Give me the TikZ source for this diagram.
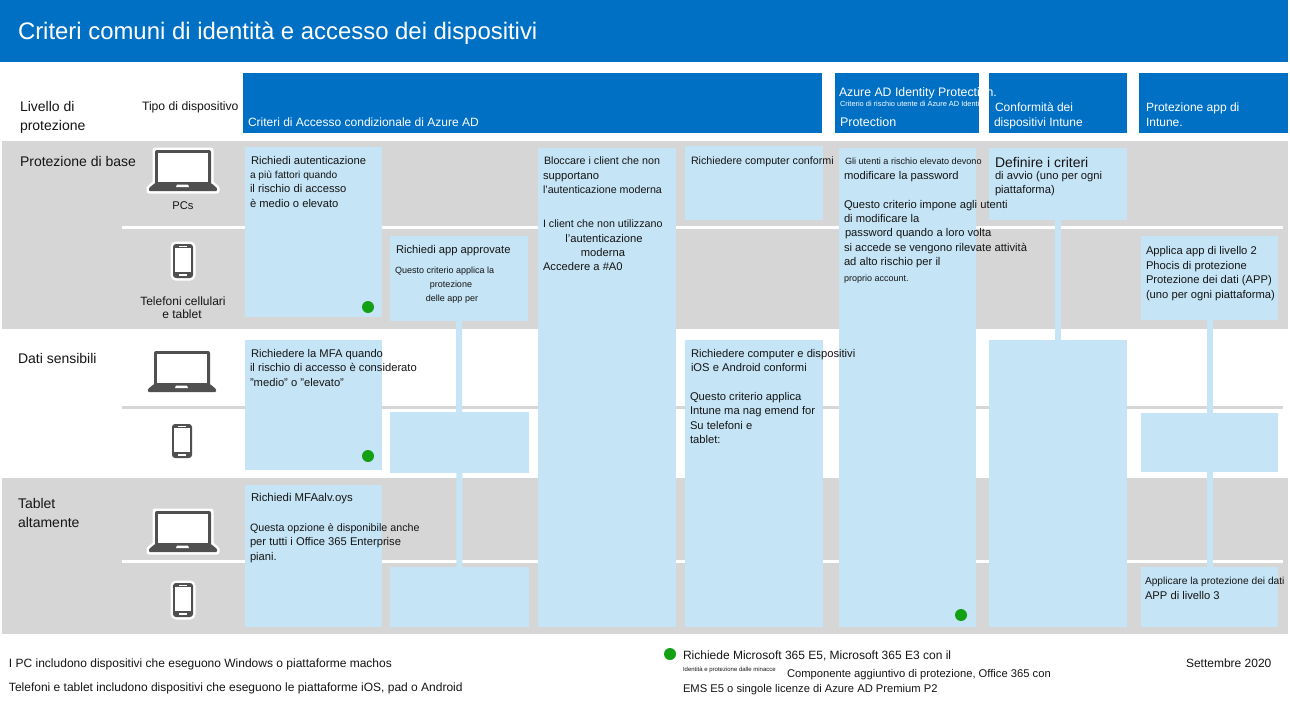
\documentclass[tikz,border=0pt]{standalone}
\usepackage{fontspec}
\setmainfont{Liberation Sans}
\definecolor{hdr}{HTML}{0070C5}
\definecolor{pale}{HTML}{C5E4F5}
\definecolor{band}{HTML}{D6D6D6}
\definecolor{icon}{HTML}{505050}
\definecolor{dot}{HTML}{14A014}
\definecolor{ink}{HTML}{151515}
\newcommand{\fs}[1]{\fontsize{#1}{#1}\selectfont}
\newcommand{\boxat}[6]{% style,name,x1,y1,x2,y2
  \pgfmathsetmacro{\bw}{#5-#3}\pgfmathsetmacro{\bh}{#6-#4}
  \pgfmathsetmacro{\bx}{(#3+#5)/2}\pgfmathsetmacro{\by}{(#4+#6)/2}
  \node[#1,minimum width=\bw pt,minimum height=\bh pt] (#2) at (\bx,\by) {};}
\tikzset{
  x=1pt,y=-1pt,
  hdrbox/.style={fill=hdr,draw=none,inner sep=0,outer sep=0},
  palebox/.style={fill=pale,draw=none,inner sep=0,outer sep=0},
  bandbox/.style={fill=band,draw=none,inner sep=0,outer sep=0},
  stem/.style={draw=pale,line width=6pt},
  wsep/.style={draw=white,line width=3pt},
  gsep/.style={draw=band,line width=3pt},
  tx/.style={anchor=base west,inner sep=0,outer sep=0,yshift=-4pt,text=ink,font=\fs{11.2}},
  txn/.style={tx,font=\fs{10.7}},
  txb/.style={tx,font=\fs{12}},
  txs/.style={tx,font=\fs{9}},
  txl/.style={tx,font=\fs{14}},
  txc/.style={tx,anchor=base},
  txcb/.style={txb,anchor=base},
  txcs/.style={txs,anchor=base},
  wt/.style={tx,text=white,font=\fs{12}},
  gdot/.style={circle,fill=dot,draw=none,minimum size=12pt,inner sep=0},
  laptop/.pic={
    \fill[icon,rounded corners=2pt] (-28,-20) rectangle (28,15);
    \fill[white] (-25,-17) rectangle (25,12);
    \fill[icon,rounded corners=1pt] (-28,13) -- (28,13) -- (34,18) -- (34,21) -- (-34,21) -- (-34,18) -- cycle;
    \fill[white] (-6,14.5) -- (5,14.5) -- (6,17) -- (-7,17) -- cycle;
  },
  laptophalo/.pic={
    \draw[white,line width=5pt,line join=round] (-28,-20) -- (28,-20) -- (28,13) -- (34,18) -- (34,21) -- (-34,21) -- (-34,18) -- (-28,13) -- cycle;
    \pic {laptop};
  },
  phone/.pic={
    \fill[icon,rounded corners=3pt] (-10,-17) rectangle (10,17);
    \fill[white] (-8,-13) rectangle (8,11);
    \fill[white] (-4,-15.5) rectangle (4,-14.2);
    \fill[white] (-4,13.2) rectangle (4,14.8);
  },
  phonehalo/.pic={
    \draw[white,line width=5pt,rounded corners=3pt] (-10,-17) rectangle (10,17);
    \pic {phone};
  },
}
\begin{document}
\begin{tikzpicture}
\useasboundingbox (0,0) rectangle (1290,702);
\fill[white] (0,0) rectangle (1290,702);
% title and header
\boxat{hdrbox}{title}{0}{0}{1288}{62}
\node[tx,text=white,font=\fs{23.9}] (ttl) at (18,35) {Criteri comuni di identità e accesso dei dispositivi};
\boxat{hdrbox}{h1}{243}{73}{822}{133}
\boxat{hdrbox}{h2}{835}{73}{979}{133}
\boxat{hdrbox}{h3}{989}{73}{1127}{133}
\boxat{hdrbox}{h4}{1139}{73}{1288}{133}
% bands
\boxat{bandbox}{b1}{2}{141}{1288}{329}
\boxat{bandbox}{b3}{2}{478}{1288}{634}
\coordinate (s1a) at (122,227); \coordinate (s1b) at (1283,227);
\coordinate (s2a) at (122,407); \coordinate (s2b) at (1283,407);
\coordinate (s3a) at (122,561); \coordinate (s3b) at (1283,561);
\draw[wsep] (s1a) -- (s1b);
\draw[gsep] (s2a) -- (s2b);
\draw[wsep] (s3a) -- (s3b);
% pale boxes
\boxat{palebox}{a1}{245}{147}{382}{317}
\boxat{palebox}{a2}{245}{340}{382}{470}
\boxat{palebox}{a3}{245}{485}{382}{627}
\boxat{palebox}{bb1}{390}{236}{528}{321}
\boxat{palebox}{bb2}{390}{412}{529}{473}
\boxat{palebox}{bb3}{390}{567}{529}{627}
\boxat{palebox}{c1}{538}{148}{676}{627}
\boxat{palebox}{d1}{685}{146}{823}{220}
\boxat{palebox}{d2}{685}{340}{823}{627}
\boxat{palebox}{e1}{839}{148}{976}{627}
\boxat{palebox}{f1}{989}{148}{1127}{220}
\boxat{palebox}{f2}{989}{340}{1127}{627}
\boxat{palebox}{g1}{1141}{236}{1278}{320}
\boxat{palebox}{g2}{1141}{413}{1278}{472}
\boxat{palebox}{g3}{1141}{567}{1278}{627}
\draw[stem] (bb1.south) -- (bb3.north);
\draw[stem] (f1.south) -- (f2.north);
\draw[stem] (g1.south) -- (g3.north);
% icons
\pic at (183,170) {laptophalo};
\pic at (183,261) {phonehalo};
\pic at (182,371) {laptop};
\pic at (182,441) {phone};
\pic at (183,531) {laptophalo};
\pic at (183,600) {phonehalo};
% dots
\node[gdot] (dA) at (368,307) {};
\node[gdot] (dB) at (368,456) {};
\node[gdot] (dC) at (961,615) {};
\node[gdot] (dL) at (670,654) {};
% header text
\node[txl] (l1) at (20,107) {Livello di};
\node[txl] (l2) at (20,126) {protezione};
\node[txb,font=\fs{12.2}] (l3) at (142,106) {Tipo di dispositivo};
\node[wt] (hA) at (248,122) {Criteri di Accesso condizionale di Azure AD};
\node[wt,font=\fs{12.3}] (hB) at (839,92) {Azure AD Identity Protection.};
\node[wt,font=\fs{7.4}] (hB2) at (840,102) {Criterio di rischio utente di Azure AD Identi};
\node[wt,font=\fs{12.5}] (hB3) at (840,122) {Protection};
\node[wt] (hC1) at (995,107) {Conformità dei};
\node[wt] (hC2) at (994,122) {dispositivi Intune};
\node[wt] (hD1) at (1146,107) {Protezione app di};
\node[wt] (hD2) at (1146,122) {Intune.};
% row labels
\node[txl] (r1) at (20,162) {Protezione di base};
\node[txc] (r2) at (183,205) {PCs};
\node[txcb] (r3) at (183,301) {Telefoni cellulari};
\node[txcb] (r4) at (182,314) {e tablet};
\node[txl] (r5) at (18,359) {Dati sensibili};
\node[txl] (r6) at (18,504) {Tablet};
\node[txl] (r7) at (18,523) {altamente};
% column A
\node[tx] (a11) at (251,160) {Richiedi autenticazione};
\node[tx,font=\fs{10.2}] (a12) at (250,174) {a più fattori quando};
\node[tx] (a13) at (250,188) {il rischio di accesso};
\node[tx] (a14) at (250,203) {è medio o elevato};
\node[tx] (a21) at (251,353) {Richiedere la MFA quando};
\node[tx] (a22) at (250,367) {il rischio di accesso è considerato};
\node[tx] (a23) at (250,382) {"medio" o "elevato"};
\node[tx,font=\fs{11.4}] (a31) at (251,497) {Richiedi MFAalv.oys};
\node[txn] (a32) at (250,527) {Questa opzione è disponibile anche};
\node[tx] (a33) at (250,541) {per tutti i Office 365 Enterprise};
\node[tx] (a34) at (250,556) {piani.};
% column B
\node[tx] (b11) at (396,249) {Richiedi app approvate};
\node[txs] (b12) at (395,269) {Questo criterio applica la};
\node[txcs] (b13) at (451,283) {protezione};
\node[txcs] (b14) at (452,297) {delle app per};
% column C
\node[txn] (c11) at (544,160) {Bloccare i client che non};
\node[tx] (c12) at (543,175) {supportano};
\node[txn] (c13) at (543,189) {l'autenticazione moderna};
\node[txn] (c14) at (543,223) {I client che non utilizzano};
\node[txc] (c15) at (604,238) {l'autenticazione};
\node[txc] (c16) at (603,252) {moderna};
\node[tx] (c17) at (543,266) {Accedere a \#A0};
% column D
\node[txn] (d11) at (691,160) {Richiedere computer conformi};
\node[tx] (d21) at (691,353) {Richiedere computer e dispositivi};
\node[tx] (d22) at (691,367) {iOS e Android conformi};
\node[tx] (d23) at (690,396) {Questo criterio applica};
\node[tx] (d24) at (690,410) {Intune ma nag emend for};
\node[tx] (d25) at (690,425) {Su telefoni e};
\node[tx] (d26) at (690,439) {tablet:};
% column E
\node[tx,font=\fs{9.1}] (e11) at (845,160) {Gli utenti a rischio elevato devono};
\node[tx] (e12) at (844,175) {modificare la password};
\node[tx] (e13) at (844,204) {Questo criterio impone agli utenti};
\node[tx] (e14) at (844,218) {di modificare la};
\node[tx] (e15) at (845,232) {password quando a loro volta};
\node[tx] (e16) at (844,247) {si accede se vengono rilevate attività};
\node[tx] (e17) at (844,261) {ad alto rischio per il};
\node[txs] (e18) at (844,277) {proprio account.};
% column F
\node[txl] (f11) at (995,163) {Definire i criteri};
\node[tx] (f12) at (995,175) {di avvio (uno per ogni};
\node[tx] (f13) at (995,189) {piattaforma)};
% column G
\node[tx] (g11) at (1146,250) {Applica app di livello 2};
\node[tx] (g12) at (1146,265) {Phocis di protezione};
\node[tx] (g13) at (1146,279) {Protezione dei dati (APP)};
\node[tx] (g14) at (1146,294) {(uno per ogni piattaforma)};
\node[tx,font=\fs{10.2}] (g31) at (1145,580) {Applicare la protezione dei dati};
\node[tx] (g32) at (1145,595) {APP di livello 3};
% footer
\node[txb] (n1) at (9,663) {I PC includono dispositivi che eseguono Windows o piattaforme machos};
\node[txb] (n2) at (9,687) {Telefoni e tablet includono dispositivi che eseguono le piattaforme iOS, pad o Android};
\node[txb] (n3) at (683,655) {Richiede Microsoft 365 E5, Microsoft 365 E3 con il};
\node[tx,font=\fs{6}] (n4) at (683,667) {Identità e protezione dalle minacce};
\node[tx] (n5) at (787,673) {Componente aggiuntivo di protezione, Office 365 con};
\node[tx] (n6) at (683,688) {EMS E5 o singole licenze di Azure AD Premium P2};
\node[txb] (n7) at (1186,663) {Settembre 2020};
\end{tikzpicture}
\end{document}
